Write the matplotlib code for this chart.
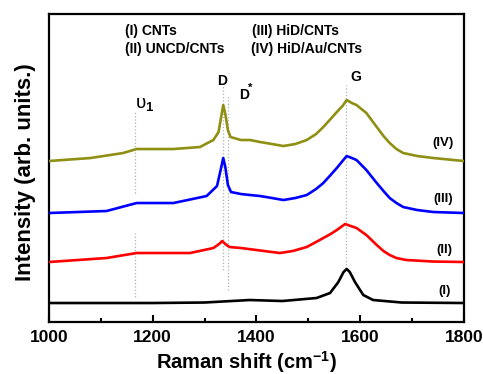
import matplotlib
matplotlib.use("Agg")
import matplotlib.pyplot as plt
from matplotlib.ticker import MultipleLocator

plt.rcParams["font.family"] = ["Liberation Sans", "DejaVu Sans"]
plt.rcParams["mathtext.fontset"] = "custom"
plt.rcParams["mathtext.rm"] = "Liberation Sans"
plt.rcParams["mathtext.bf"] = "Liberation Sans:bold"

# ------------------------------------------------------------------
# Spectra (offset intensities, arb. units)
# ------------------------------------------------------------------

shift_iv = [1000, 1080, 1143, 1169, 1240, 1291, 1317, 1327, 1332, 1336, 1340, 1345, 1350,
            1370, 1388, 1407, 1430, 1452, 1475, 1497, 1515, 1529, 1543, 1555, 1566, 1574,
            1584, 1593, 1612, 1632, 1645, 1657, 1670, 1683, 1710, 1741, 1800]
int_iv = [161, 164, 169, 173, 173, 175, 182, 190, 205, 217, 208, 192, 185,
          182, 182, 180, 178, 176, 178, 182, 188, 195, 203, 210, 216, 222,
          219, 217, 209, 195, 186, 179, 173, 169, 166, 164, 161]

shift_iii = [1000, 1111, 1169, 1240, 1304, 1324, 1331, 1336, 1340, 1345, 1351, 1370,
             1388, 1407, 1430, 1452, 1475, 1497, 1515, 1529, 1543, 1555, 1566, 1574,
             1584, 1593, 1612, 1632, 1645, 1657, 1670, 1683, 1710, 1741, 1800]
int_iii = [109, 111, 119, 119, 126, 136, 152, 164, 155, 137, 130, 128,
           127, 126, 124, 122, 124, 127, 133, 139, 147, 154, 161, 166,
           164, 162, 152, 139, 131, 124, 119, 115, 112, 110, 109]

shift_ii = [1000, 1111, 1169, 1272, 1317, 1328, 1334, 1340, 1348, 1370, 1400, 1445,
            1470, 1497, 1515, 1529, 1543, 1555, 1571, 1582, 1593, 1612, 1632, 1645,
            1657, 1670, 1689, 1740, 1800]
int_ii = [60, 64, 69, 69, 74, 78, 81, 78, 75, 74, 72, 69,
          71, 75, 80, 84, 88, 92, 98, 96, 94, 87, 77, 71,
          67, 64, 62, 60.5, 60]

shift_i = [1000, 1200, 1300, 1387, 1450, 1516, 1542, 1558, 1568, 1574, 1580, 1590,
           1606, 1625, 1680, 1800]
int_i = [19, 19, 19.5, 22, 21, 24, 29, 40, 50, 53, 50, 40,
         27, 22, 19.5, 19]

# guide lines: (position, [(y0, y1), ...])
guides = [
    (1166, [(129, 210), (25, 89)]),
    (1335, [(52, 237)]),
    (1346, [(32, 227)]),
    (1572, [(54, 237)]),
]

fig = plt.figure(figsize=(4.83, 3.74), dpi=100)
ax = fig.add_axes([0.1014, 0.139, 0.859, 0.8235])

for xg, segs in guides:
    for y0, y1 in segs:
        ax.plot([xg, xg], [y0, y1], ls=":", color="#b0b0b0", lw=0.9, zorder=1)

ax.plot(shift_i, int_i, color="black", lw=1.9, zorder=3)
ax.plot(shift_ii, int_ii, color="#ff0000", lw=1.9, zorder=3)
ax.plot(shift_iii, int_iii, color="#0000ff", lw=1.9, zorder=3)
ax.plot(shift_iv, int_iv, color="#8f8f14", lw=1.9, zorder=3)

ax.set_xlim(1000, 1800)
ax.set_ylim(0, 308)
ax.set_yticks([])
ax.xaxis.set_major_locator(MultipleLocator(200))
ax.xaxis.set_minor_locator(MultipleLocator(100))
ax.tick_params(axis="x", which="major", direction="in", length=5, width=1.5,
               labelsize=12.5, pad=6)
ax.tick_params(axis="x", which="minor", direction="in", length=3, width=1.5)
for lab in ax.get_xticklabels():
    lab.set_fontweight("bold")
for sp in ax.spines.values():
    sp.set_linewidth(1.6)

ax.set_xlabel(r"Raman shift (cm$^{\mathbf{-1}}$)", fontsize=14.5, fontweight="bold")
ax.set_ylabel("Intensity (arb. units.)", fontsize=16, fontweight="bold")
ax.xaxis.set_label_coords(0.477, -0.088)
ax.yaxis.set_label_coords(-0.032, 0.487)

tk = dict(fontsize=10, fontweight="bold", va="center", ha="left")
ax.text(1146, 291, "(I) CNTs", **tk)
ax.text(1146, 273, "(II) UNCD/CNTs", **tk)
ax.text(1391, 291, "(III) HiD/CNTs", **tk)
ax.text(1389, 273, "(IV) HiD/Au/CNTs", **tk)

pk = dict(fontsize=10, fontweight="bold", va="center", ha="center")
ax.text(1185, 217, "υ$_{\\mathbf{1}}$", fontsize=13.5, va="center", ha="center")
ax.text(1333, 241, "D", **pk)
ax.text(1376, 227, "D", **pk)
ax.text(1388, 234, "*", fontsize=8, fontweight="bold", va="center", ha="center")
ax.text(1592, 245, "G", **pk)

lb = dict(fontsize=9.5, fontweight="bold", va="center", ha="center")
ax.text(1760, 179, "(IV)", **lb)
ax.text(1761, 123, "(III)", **lb)
ax.text(1763, 72, "(II)", **lb)
ax.text(1763, 31, "(I)", **lb)

fig.savefig("out.png", dpi=100)
